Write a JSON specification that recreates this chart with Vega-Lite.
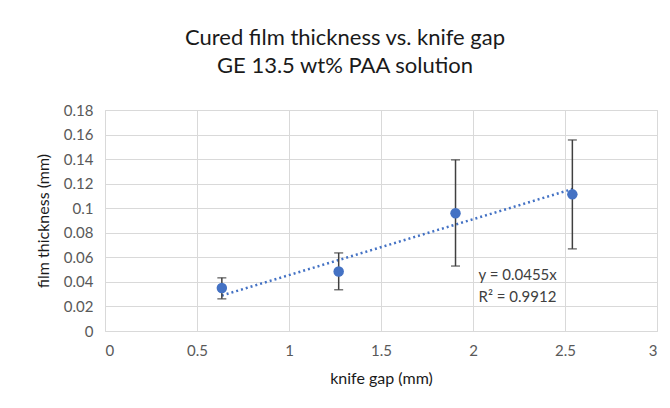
{
  "$schema": "https://vega.github.io/schema/vega-lite/v6.json",
  "autosize": "none",
  "width": 552,
  "height": 221,
  "padding": {"left": 105, "top": 110, "right": 13, "bottom": 77},
  "background": "white",
  "title": {
    "text": ["Cured film thickness vs. knife gap", "GE 13.5 wt% PAA solution"],
    "font": "Lato",
    "fontSize": 22,
    "fontWeight": "normal",
    "color": "#1a1a1a",
    "anchor": "middle",
    "dx": -36,
    "lineHeight": 28,
    "offset": 25
  },
  "datasets": {
    "pts": [
      {"gap": 0.635, "thk": 0.035, "lo": 0.0262, "hi": 0.0433},
      {"gap": 1.27, "thk": 0.0485, "lo": 0.0336, "hi": 0.0636},
      {"gap": 1.905, "thk": 0.0959, "lo": 0.0529, "hi": 0.1394},
      {"gap": 2.54, "thk": 0.1113, "lo": 0.0669, "hi": 0.1556}
    ],
    "trend": [
      {"gap": 0.635, "thk": 0.0289},
      {"gap": 2.54, "thk": 0.1156}
    ]
  },
  "config": {
    "view": {"stroke": "#d9d9d9", "strokeWidth": 1},
    "font": "Lato",
    "axis": {
      "gridColor": "#d9d9d9",
      "gridWidth": 1,
      "domain": false,
      "ticks": false,
      "labelFont": "Lato",
      "labelFontSize": 15,
      "labelColor": "#595959",
      "labelOverlap": false,
      "titleFont": "Lato",
      "titleFontSize": 16,
      "titleFontWeight": "normal",
      "titleColor": "#1a1a1a",
      "format": "~g"
    },
    "axisY": {"tickCount": 10, "labelPadding": 12, "titlePadding": 12},
    "axisX": {"tickCount": 7, "labelPadding": 12, "titlePadding": 12}
  },
  "layer": [
    {
      "data": {"name": "trend"},
      "mark": {"type": "line", "color": "#4472C4", "strokeWidth": 2.5, "strokeDash": [2, 3]},
      "encoding": {
        "x": {
          "field": "gap", "type": "quantitative",
          "scale": {"domain": [0, 3], "nice": false},
          "axis": {"values": [0, 0.5, 1, 1.5, 2, 2.5, 3], "title": "knife gap (mm)"}
        },
        "y": {
          "field": "thk", "type": "quantitative",
          "scale": {"domain": [0, 0.18], "nice": false},
          "axis": {"values": [0, 0.02, 0.04, 0.06, 0.08, 0.1, 0.12, 0.14, 0.16, 0.18], "title": "film thickness (mm)"}
        }
      }
    },
    {
      "data": {"name": "pts"},
      "mark": {"type": "rule", "color": "#404040", "strokeWidth": 1.5},
      "encoding": {
        "x": {"field": "gap", "type": "quantitative"},
        "y": {"field": "lo", "type": "quantitative"},
        "y2": {"field": "hi"}
      }
    },
    {
      "data": {"name": "pts"},
      "mark": {"type": "tick", "orient": "horizontal", "color": "#404040", "size": 9, "thickness": 1.5},
      "encoding": {
        "x": {"field": "gap", "type": "quantitative"},
        "y": {"field": "lo", "type": "quantitative"}
      }
    },
    {
      "data": {"name": "pts"},
      "mark": {"type": "tick", "orient": "horizontal", "color": "#404040", "size": 9, "thickness": 1.5},
      "encoding": {
        "x": {"field": "gap", "type": "quantitative"},
        "y": {"field": "hi", "type": "quantitative"}
      }
    },
    {
      "data": {"name": "pts"},
      "mark": {"type": "circle", "color": "#4472C4", "size": 110, "opacity": 1},
      "encoding": {
        "x": {"field": "gap", "type": "quantitative"},
        "y": {"field": "thk", "type": "quantitative"}
      }
    },
    {
      "data": {"values": [{}]},
      "mark": {"type": "text", "align": "left", "baseline": "middle", "fontSize": 15, "color": "#404040", "font": "Lato"},
      "encoding": {
        "x": {"datum": 2.03, "type": "quantitative"},
        "y": {"datum": 0.0456, "type": "quantitative"},
        "text": {"value": "y = 0.0455x"}
      }
    },
    {
      "data": {"values": [{}]},
      "mark": {"type": "text", "align": "left", "baseline": "middle", "fontSize": 15, "color": "#404040", "font": "Lato"},
      "encoding": {
        "x": {"datum": 2.03, "type": "quantitative"},
        "y": {"datum": 0.0277, "type": "quantitative"},
        "text": {"value": "R² = 0.9912"}
      }
    }
  ]
}
